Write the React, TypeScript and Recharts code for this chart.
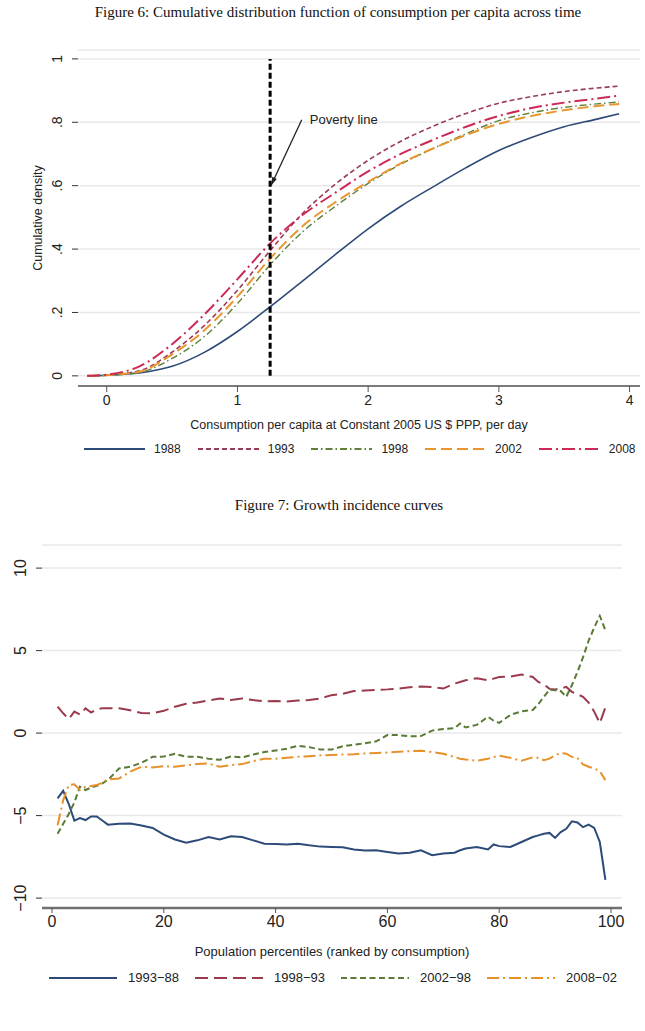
import React from 'react';
import {
  LineChart,
  Line,
  XAxis,
  YAxis,
  CartesianGrid,
  ReferenceLine,
} from 'recharts';

// ---- Figure 6: CDF of consumption per capita ----
const cdfX = [-0.15, 0, 0.25, 0.5, 0.75, 1, 1.25, 1.5, 1.75, 2, 2.25, 2.5, 2.75, 3, 3.25, 3.5, 3.75, 3.92];
const cdf1988 = [0, 0.002, 0.009, 0.03, 0.075, 0.14, 0.218, 0.3, 0.383, 0.464, 0.535, 0.597, 0.657, 0.711, 0.752, 0.786, 0.81, 0.827];
const cdf1993 = [0, 0.003, 0.016, 0.075, 0.16, 0.27, 0.395, 0.513, 0.605, 0.68, 0.74, 0.788, 0.828, 0.86, 0.881, 0.897, 0.908, 0.914];
const cdf1998 = [0, 0.002, 0.011, 0.055, 0.125, 0.228, 0.35, 0.455, 0.535, 0.607, 0.668, 0.718, 0.764, 0.805, 0.83, 0.847, 0.858, 0.864];
const cdf2002 = [0, 0.002, 0.013, 0.068, 0.145, 0.25, 0.37, 0.473, 0.548, 0.612, 0.67, 0.718, 0.76, 0.795, 0.82, 0.838, 0.851, 0.858];
const cdf2008 = [0, 0.004, 0.03, 0.1, 0.195, 0.305, 0.418, 0.508, 0.578, 0.645, 0.7, 0.745, 0.786, 0.82, 0.845, 0.862, 0.875, 0.884];
const cdfXTicks = [0, 1, 2, 3, 4];
const cdfYTicks = [0, 0.2, 0.4, 0.6, 0.8, 1];
const povertyLine = 1.25;

// ---- Figure 7: growth incidence curves ----
const pct = [1, 2, 3, 4, 5, 6, 7, 8, 9, 10, 12, 14, 16, 18, 20, 22, 24, 26, 28, 30, 32, 34, 36, 38, 40, 42, 44, 46, 48, 50, 52, 54, 56, 58, 60, 62, 64, 66, 68, 70, 72, 73, 74, 76, 78, 79, 80, 82, 84, 86, 87, 88, 89, 90, 91, 92, 93, 94, 95, 96, 97, 98, 99];
const gic9388 = [-3.96, -3.5, -4.3, -5.3, -5.15, -5.27, -5.05, -5.05, -5.3, -5.55, -5.5, -5.48, -5.6, -5.75, -6.15, -6.45, -6.65, -6.5, -6.3, -6.45, -6.25, -6.3, -6.5, -6.7, -6.72, -6.75, -6.7, -6.8, -6.88, -6.9, -6.92, -7.05, -7.12, -7.1, -7.2, -7.3, -7.25, -7.1, -7.4, -7.3, -7.25, -7.1, -7.0, -6.9, -7.05, -6.75, -6.85, -6.9, -6.6, -6.3, -6.2, -6.1, -6.05, -6.35, -6.0, -5.8, -5.35, -5.42, -5.7, -5.55, -5.75, -6.6, -8.9];
const gic9893 = [1.6, 1.2, 0.85, 1.3, 1.12, 1.5, 1.25, 1.45, 1.5, 1.5, 1.5, 1.38, 1.22, 1.2, 1.35, 1.6, 1.78, 1.85, 1.98, 2.1, 2.0, 2.1, 2.0, 1.92, 1.95, 1.92, 1.98, 2.0, 2.1, 2.3, 2.38, 2.55, 2.58, 2.62, 2.65, 2.7, 2.78, 2.82, 2.8, 2.7, 3.0, 3.1, 3.2, 3.33, 3.2, 3.3, 3.4, 3.43, 3.55, 3.4, 3.1, 2.95, 2.68, 2.65, 2.7, 2.8, 2.5, 2.35, 2.2, 1.85, 1.3, 0.6, 1.56];
const gic0298 = [-6.1, -5.5, -4.9, -4.2, -3.25, -3.45, -3.3, -3.2, -3.05, -2.85, -2.14, -2.04, -1.8, -1.44, -1.42, -1.25, -1.44, -1.44, -1.55, -1.62, -1.42, -1.48, -1.3, -1.15, -1.05, -0.95, -0.77, -0.85, -1.0, -1.0, -0.8, -0.7, -0.62, -0.5, -0.12, -0.12, -0.2, -0.18, 0.15, 0.25, 0.3, 0.58, 0.34, 0.5, 0.99, 0.75, 0.62, 1.1, 1.32, 1.4, 1.75, 2.2, 2.63, 2.6, 2.55, 2.2, 2.9, 3.7, 4.6, 5.6, 6.4, 7.1, 6.24];
const gic0802 = [-5.58, -4.06, -3.15, -3.1, -3.45, -3.25, -3.2, -3.15, -3.0, -2.8, -2.75, -2.34, -2.04, -2.08, -2.0, -2.04, -1.95, -1.88, -1.84, -2.04, -1.94, -1.88, -1.7, -1.55, -1.55, -1.5, -1.44, -1.4, -1.35, -1.33, -1.3, -1.28, -1.23, -1.2, -1.18, -1.13, -1.1, -1.07, -1.15, -1.25, -1.45, -1.55, -1.6, -1.68, -1.55, -1.45, -1.37, -1.5, -1.68, -1.47, -1.5, -1.64, -1.55, -1.35, -1.2, -1.25, -1.44, -1.5, -1.9, -2.04, -2.15, -2.3, -2.85];
const gicXTicks = [0, 20, 40, 60, 80, 100];
const gicYTicks = [-10, -5, 0, 5, 10];

type Series = { key: string; name: string; values: number[]; color: string; dash?: string; width: number };

const cdfSeries: Series[] = [
  { key: 's1988', name: '1988', values: cdf1988, color: '#2d4b79', width: 1.6 },
  { key: 's1993', name: '1993', values: cdf1993, color: '#9c3b56', dash: '5 3', width: 1.6 },
  { key: 's1998', name: '1998', values: cdf1998, color: '#5f7f3a', dash: '7 3 1.5 3', width: 1.4 },
  { key: 's2002', name: '2002', values: cdf2002, color: '#e8962e', dash: '11 5', width: 2 },
  { key: 's2008', name: '2008', values: cdf2008, color: '#cc2a55', dash: '13 4 2 4', width: 2 },
];

const gicSeries: Series[] = [
  { key: 'g9388', name: '1993\u221288', values: gic9388, color: '#2d4b79', width: 2 },
  { key: 'g9893', name: '1998\u221293', values: gic9893, color: '#9b3a4c', dash: '13 6', width: 2 },
  { key: 'g0298', name: '2002\u221298', values: gic0298, color: '#5a7a35', dash: '6 3.5', width: 2 },
  { key: 'g0802', name: '2008\u221202', values: gic0802, color: '#e8902a', dash: '12 4 2 4', width: 2 },
];

const cdfData = cdfX.map((x, i) => {
  const row: Record<string, number> = { x };
  cdfSeries.forEach((s) => (row[s.key] = s.values[i]));
  return row;
});

const gicData = pct.map((x, i) => {
  const row: Record<string, number> = { x };
  gicSeries.forEach((s) => (row[s.key] = s.values[i]));
  return row;
});

const SANS = '"Liberation Sans", Arial, sans-serif';
const SERIF = '"Liberation Serif", "Times New Roman", serif';

function RotatedTick(props: any) {
  const { x, y, payload, fontSize, fmt } = props;
  return (
    <text
      x={x}
      y={y}
      transform={`rotate(-90, ${x}, ${y})`}
      textAnchor="middle"
      fontSize={fontSize}
      fontFamily={SANS}
      fill="#222"
    >
      {fmt(payload.value)}
    </text>
  );
}

const fmtCdf = (v: number) => (v === 0 ? '0' : v === 1 ? '1' : String(v).replace('0.', '.'));
const fmtGic = (v: number) => (v < 0 ? '\u2212' + Math.abs(v) : String(v));

function ArrowShape(props: any) {
  const { x1, y1, x2, y2 } = props;
  const ang = Math.atan2(y2 - y1, x2 - x1);
  const len = 9;
  const spread = 0.28;
  const ax = x2 - len * Math.cos(ang - spread);
  const ay = y2 - len * Math.sin(ang - spread);
  const bx = x2 - len * Math.cos(ang + spread);
  const by = y2 - len * Math.sin(ang + spread);
  return (
    <g>
      <line x1={x1} y1={y1} x2={x2} y2={y2} stroke="#222" strokeWidth={1.3} />
      <polygon points={`${x2},${y2} ${ax},${ay} ${bx},${by}`} fill="#222" />
      <text x={x1 + 8} y={y1 + 4} fontSize={13} fontFamily={SANS} fill="#222">
        Poverty line
      </text>
    </g>
  );
}

function LegendRow({ items, top, left, lineLen, gap, textGap, fontSize }: any) {
  return (
    <div
      style={{
        position: 'absolute',
        top,
        left,
        display: 'flex',
        alignItems: 'center',
        gap,
        fontFamily: SANS,
        fontSize,
        color: '#222',
        whiteSpace: 'nowrap',
      }}
    >
      {items.map((s: Series) => (
        <div key={s.key} style={{ display: 'flex', alignItems: 'center', gap: textGap }}>
          <svg width={lineLen} height={6}>
            <line x1={0} y1={3} x2={lineLen} y2={3} stroke={s.color} strokeWidth={2} strokeDasharray={s.dash} />
          </svg>
          <span>{s.name}</span>
        </div>
      ))}
    </div>
  );
}

export default function App() {
  return (
    <div style={{ position: 'absolute', left: 0, top: 0, width: 645, height: 1031, background: '#fff' }}>
      <div
        style={{
          position: 'absolute', top: 3, left: 0, width: 676, textAlign: 'center',
          fontFamily: SERIF, fontSize: 15, lineHeight: '18px', color: '#111',
        }}
      >
        Figure 6: Cumulative distribution function of consumption per capita across time
      </div>

      <div style={{ position: 'absolute', left: 0, top: 40 }}>
        <LineChart width={645} height={430} data={cdfData} margin={{ top: 10, right: 5, left: 18, bottom: 54 }}>
          <CartesianGrid vertical={false} stroke="#e9e9e9" strokeWidth={1.5} />
          <XAxis
            dataKey="x"
            type="number"
            domain={[-0.22, 4.08]}
            ticks={cdfXTicks}
            interval={0}
            allowDataOverflow
            height={30}
            axisLine={{ stroke: '#555', strokeWidth: 1.5 }}
            tickLine={{ stroke: '#555' }}
            tickSize={6}
            tickMargin={3}
            tick={{ fontSize: 14, fill: '#222', fontFamily: SANS }}
          />
          <YAxis
            type="number"
            domain={[-0.032, 1.028]}
            ticks={cdfYTicks}
            interval={0}
            allowDataOverflow
            width={60}
            axisLine={false}
            tickLine={{ stroke: '#333' }}
            tickSize={6}
            tickMargin={10}
            tick={(p: any) => <RotatedTick {...p} fontSize={14} fmt={fmtCdf} />}
            label={{
              content: (lp: any) => {
                const vb = lp.viewBox;
                const cx = vb.x + 24;
                const cy = vb.y + vb.height / 2;
                return (
                  <text x={cx} y={cy} transform={`rotate(-90, ${cx}, ${cy})`} textAnchor="middle"
                    fontSize={12.5} fontFamily={SANS} fill="#222">
                    Cumulative density
                  </text>
                );
              },
            }}
          />
          {cdfSeries.map((s) => (
            <Line
              key={s.key}
              dataKey={s.key}
              type="monotone"
              stroke={s.color}
              strokeWidth={s.width}
              strokeDasharray={s.dash}
              dot={false}
              activeDot={false}
              isAnimationActive={false}
            />
          ))}
          <ReferenceLine
            segment={[{ x: povertyLine, y: 0 }, { x: povertyLine, y: 1 }]}
            stroke="#000"
            strokeWidth={3}
            strokeDasharray="6 3"
          />
          <ReferenceLine
            segment={[{ x: 1.492, y: 0.808 }, { x: 1.256, y: 0.6 }]}
            shape={ArrowShape}
          />
        </LineChart>
      </div>

      <div
        style={{
          position: 'absolute', top: 417, left: 78, width: 562, textAlign: 'center',
          fontFamily: SANS, fontSize: 12.5, lineHeight: '16px', color: '#222',
        }}
      >
        Consumption per capita at Constant 2005 US $ PPP, per day
      </div>
      <LegendRow items={cdfSeries} top={442} left={84} lineLen={61} gap={17} textGap={9} fontSize={12} />

      <div
        style={{
          position: 'absolute', top: 496, left: 0, width: 678, textAlign: 'center',
          fontFamily: SERIF, fontSize: 15, lineHeight: '18px', color: '#111',
        }}
      >
        Figure 7: Growth incidence curves
      </div>

      <div style={{ position: 'absolute', left: 0, top: 530 }}>
        <LineChart width={645} height={420} data={gicData} margin={{ top: 15, right: 23, left: 2, bottom: 12 }}>
          <CartesianGrid vertical={false} stroke="#e9e9e9" strokeWidth={1.5} />
          <XAxis
            dataKey="x"
            type="number"
            domain={[-1.79, 101.97]}
            ticks={gicXTicks}
            interval={0}
            allowDataOverflow
            height={30}
            axisLine={{ stroke: '#707070', strokeWidth: 2.5 }}
            tickLine={{ stroke: '#555' }}
            tickSize={5}
            tickMargin={3}
            tick={{ fontSize: 16, fill: '#222', fontFamily: SANS }}
          />
          <YAxis
            type="number"
            domain={[-10.6, 11.4]}
            ticks={gicYTicks}
            interval={0}
            allowDataOverflow
            width={40}
            axisLine={false}
            tickLine={{ stroke: '#333' }}
            tickSize={6}
            tickMargin={10}
            tick={(p: any) => <RotatedTick {...p} fontSize={16} fmt={fmtGic} />}
          />
          {gicSeries.map((s) => (
            <Line
              key={s.key}
              dataKey={s.key}
              type="linear"
              stroke={s.color}
              strokeWidth={s.width}
              strokeDasharray={s.dash}
              dot={false}
              activeDot={false}
              isAnimationActive={false}
            />
          ))}
        </LineChart>
      </div>

      <div
        style={{
          position: 'absolute', top: 944, left: 42, width: 580, textAlign: 'center',
          fontFamily: SANS, fontSize: 13, lineHeight: '16px', color: '#222',
        }}
      >
        Population percentiles (ranked by consumption)
      </div>
      <LegendRow items={gicSeries} top={970} left={49} lineLen={68} gap={16} textGap={11} fontSize={13} />
    </div>
  );
}
